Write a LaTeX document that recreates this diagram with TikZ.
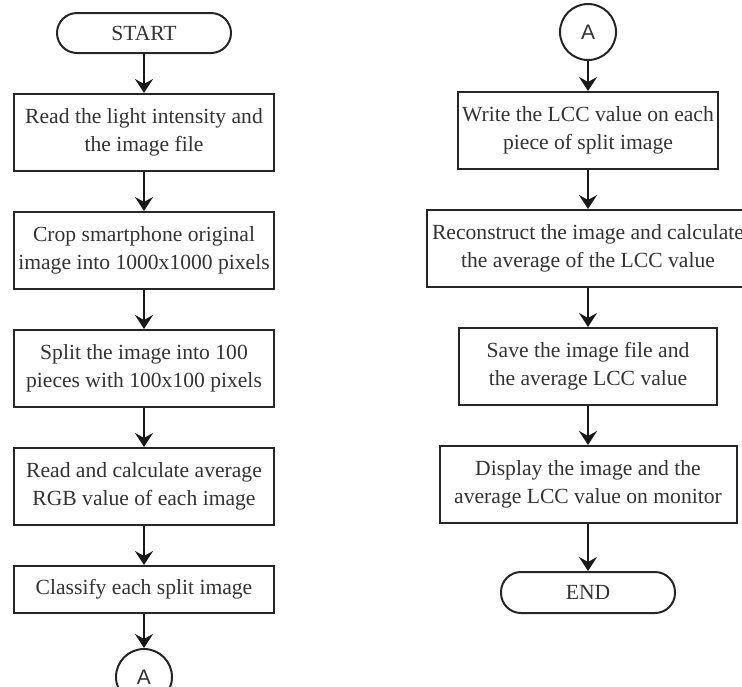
\documentclass[tikz,border=0pt]{standalone}
\usepackage{fontspec}
\setmainfont{Liberation Serif}
\setsansfont{Liberation Sans}
\usepackage{tikz}
\usetikzlibrary{positioning}
\usetikzlibrary{chains}
\usetikzlibrary{arrows.meta}

\begin{document}
\begin{tikzpicture}[
    x=0.5pt, y=-0.5pt,          % one unit = one pixel of the sketch
    node distance=19.5pt,       % Global setup of box spacing
    font=\fontsize{10.8}{14}\selectfont,
    ]
% -------------------------------------------------
\tikzset{
  base/.style={draw=black!85, line width=1pt, on chain, align=center, text=black!80},
  term/.style={base, rectangle, rounded corners=10pt, minimum width=87pt, minimum height=20pt},
  proc/.style={base, rectangle, minimum width=130pt, minimum height=38.5pt, inner sep=2pt},
  conn/.style={draw=black!85, line width=1pt, circle, minimum size=28pt, inner sep=0pt,
    text=black!80, font=\sffamily\fontsize{10.5}{12}\selectfont},
  line/.style={draw, line width=1pt, black!90, -{Stealth[length=7pt, width=9pt, inset=2.5pt]}}
}
% -------------------------------------------------
\useasboundingbox (0,0) rectangle (742,686);

% Left column
\begin{scope}[start chain=going below]
\node [term] (s0) at (144,33) {START};
\node [proc] (p1) {Read the light intensity and\\ the image file};
\node [proc] (p2) {Crop smartphone original\\ image into 1000x1000 pixels};
\node [proc] (p3) {Split the image into 100\\ pieces with 100x100 pixels};
\node [proc] (p4) {Read and calculate average\\ RGB value of each image};
\node [proc, minimum height=23.5pt] (p5) {Classify each split image};
\end{scope}
\node [conn, below=17pt of p5] (a0) {A};

% Right column
\node [conn] (a1) at (588,32) {A};
\begin{scope}[start chain=going below]
\node [proc, minimum width=129pt, below=15pt of a1] (q1) {Write the LCC value on each\\ piece of split image};
\node [proc, minimum width=161pt] (q2) {Reconstruct the image and calculate\\ the average of the LCC value};
\node [proc, minimum width=129pt] (q3) {Save the image file and\\ the average LCC value};
\node [proc, minimum width=148.5pt] (q4) {Display the image and the\\ average LCC value on monitor};
\node [term, minimum height=20.5pt, below=23.5pt of q4] (e0) {END};
\end{scope}

\path [line] (s0) -- (p1);
\path [line] (p1) -- (p2);
\path [line] (p2) -- (p3);
\path [line] (p3) -- (p4);
\path [line] (p4) -- (p5);
\path [line] (p5) -- (a0);

\path [line] (a1) -- (q1);
\path [line] (q1) -- (q2);
\path [line] (q2) -- (q3);
\path [line] (q3) -- (q4);
\path [line] (q4) -- (e0);

\end{tikzpicture}
\end{document}
